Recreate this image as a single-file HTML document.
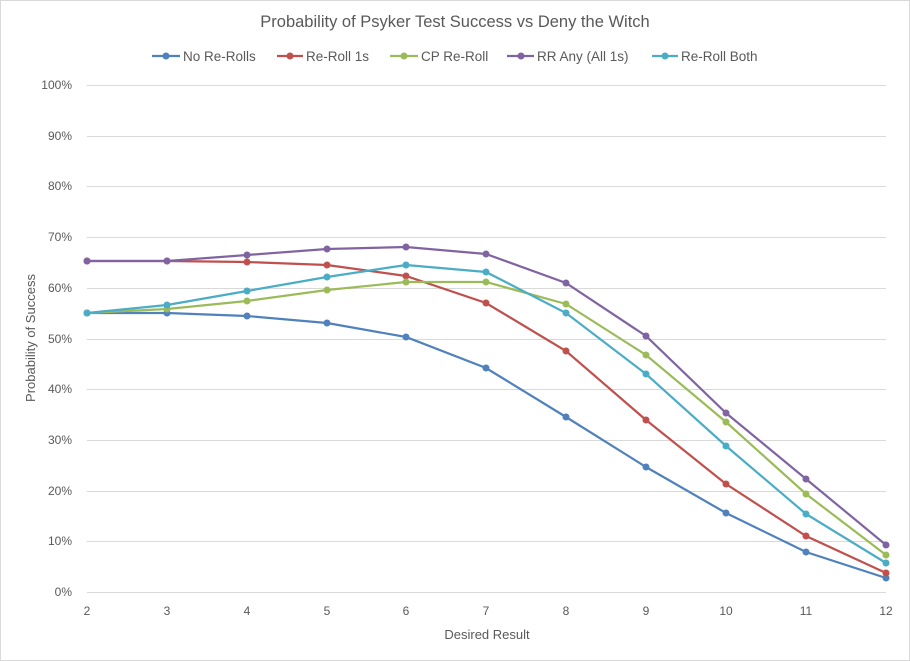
<!DOCTYPE html>
<html><head><meta charset="utf-8"><style>
body{margin:0;background:#fff}
svg{display:block;font-family:"Liberation Sans",Arial,sans-serif}
</style></head><body>
<svg width="910" height="661" viewBox="0 0 910 661" xmlns="http://www.w3.org/2000/svg">
<rect x="0.5" y="0.5" width="909" height="660" fill="#fff" stroke="#d9d9d9"/>
<text x="455" y="27" text-anchor="middle" font-size="16.5" fill="#595959">Probability of Psyker Test Success vs Deny the Witch</text>
<g stroke="#d9d9d9" stroke-width="1">
<line x1="87" x2="886" y1="85.5" y2="85.5"/><line x1="87" x2="886" y1="136.5" y2="136.5"/>
<line x1="87" x2="886" y1="186.5" y2="186.5"/><line x1="87" x2="886" y1="237.5" y2="237.5"/>
<line x1="87" x2="886" y1="288.5" y2="288.5"/><line x1="87" x2="886" y1="339.5" y2="339.5"/>
<line x1="87" x2="886" y1="389.5" y2="389.5"/><line x1="87" x2="886" y1="440.5" y2="440.5"/>
<line x1="87" x2="886" y1="491.5" y2="491.5"/><line x1="87" x2="886" y1="541.5" y2="541.5"/>
<line x1="87" x2="886" y1="592.5" y2="592.5"/>
</g>
<g font-size="12" fill="#595959" text-anchor="end">
<text x="72" y="89">100%</text><text x="72" y="140">90%</text><text x="72" y="190">80%</text>
<text x="72" y="241">70%</text><text x="72" y="292">60%</text><text x="72" y="343">50%</text>
<text x="72" y="393">40%</text><text x="72" y="444">30%</text><text x="72" y="495">20%</text>
<text x="72" y="545">10%</text><text x="72" y="596">0%</text>
</g>
<g font-size="12" fill="#595959" text-anchor="middle">
<text x="87" y="615">2</text><text x="167" y="615">3</text><text x="247" y="615">4</text>
<text x="327" y="615">5</text><text x="406" y="615">6</text><text x="486" y="615">7</text>
<text x="566" y="615">8</text><text x="646" y="615">9</text><text x="726" y="615">10</text>
<text x="806" y="615">11</text><text x="886" y="615">12</text>
</g>
<text x="487" y="639" text-anchor="middle" font-size="13" fill="#595959">Desired Result</text>
<text transform="translate(35,338) rotate(-90)" text-anchor="middle" font-size="13" fill="#595959">Probability of Success</text>
<g fill="none" stroke-width="2.2">
<polyline stroke="#4f81bd" points="87,313 167,313 247,316 327,323 406,337 486,368 566,417 646,467 726,513 806,552 886,578"/>
<polyline stroke="#c0504d" points="87,261 167,261 247,262 327,265 406,276 486,303 566,351 646,420 726,484 806,536 886,573"/>
<polyline stroke="#9bbb59" points="87,313 167,309 247,301 327,290 406,282 486,282 566,304 646,355 726,422 806,494 886,555"/>
<polyline stroke="#8064a2" points="87,261 167,261 247,255 327,249 406,247 486,254 566,283 646,336 726,413 806,479 886,545"/>
<polyline stroke="#4bacc6" points="87,313 167,305 247,291 327,277 406,265 486,272 566,313 646,374 726,446 806,514 886,563"/>
</g>
<g fill="#4f81bd"><circle cx="87" cy="313" r="3.5"/><circle cx="167" cy="313" r="3.5"/><circle cx="247" cy="316" r="3.5"/><circle cx="327" cy="323" r="3.5"/><circle cx="406" cy="337" r="3.5"/><circle cx="486" cy="368" r="3.5"/><circle cx="566" cy="417" r="3.5"/><circle cx="646" cy="467" r="3.5"/><circle cx="726" cy="513" r="3.5"/><circle cx="806" cy="552" r="3.5"/><circle cx="886" cy="578" r="3.5"/></g>
<g fill="#c0504d"><circle cx="87" cy="261" r="3.5"/><circle cx="167" cy="261" r="3.5"/><circle cx="247" cy="262" r="3.5"/><circle cx="327" cy="265" r="3.5"/><circle cx="406" cy="276" r="3.5"/><circle cx="486" cy="303" r="3.5"/><circle cx="566" cy="351" r="3.5"/><circle cx="646" cy="420" r="3.5"/><circle cx="726" cy="484" r="3.5"/><circle cx="806" cy="536" r="3.5"/><circle cx="886" cy="573" r="3.5"/></g>
<g fill="#9bbb59"><circle cx="87" cy="313" r="3.5"/><circle cx="167" cy="309" r="3.5"/><circle cx="247" cy="301" r="3.5"/><circle cx="327" cy="290" r="3.5"/><circle cx="406" cy="282" r="3.5"/><circle cx="486" cy="282" r="3.5"/><circle cx="566" cy="304" r="3.5"/><circle cx="646" cy="355" r="3.5"/><circle cx="726" cy="422" r="3.5"/><circle cx="806" cy="494" r="3.5"/><circle cx="886" cy="555" r="3.5"/></g>
<g fill="#8064a2"><circle cx="87" cy="261" r="3.5"/><circle cx="167" cy="261" r="3.5"/><circle cx="247" cy="255" r="3.5"/><circle cx="327" cy="249" r="3.5"/><circle cx="406" cy="247" r="3.5"/><circle cx="486" cy="254" r="3.5"/><circle cx="566" cy="283" r="3.5"/><circle cx="646" cy="336" r="3.5"/><circle cx="726" cy="413" r="3.5"/><circle cx="806" cy="479" r="3.5"/><circle cx="886" cy="545" r="3.5"/></g>
<g fill="#4bacc6"><circle cx="87" cy="313" r="3.5"/><circle cx="167" cy="305" r="3.5"/><circle cx="247" cy="291" r="3.5"/><circle cx="327" cy="277" r="3.5"/><circle cx="406" cy="265" r="3.5"/><circle cx="486" cy="272" r="3.5"/><circle cx="566" cy="313" r="3.5"/><circle cx="646" cy="374" r="3.5"/><circle cx="726" cy="446" r="3.5"/><circle cx="806" cy="514" r="3.5"/><circle cx="886" cy="563" r="3.5"/></g>
<g font-size="13.5" fill="#595959" stroke-width="2.2">
<line x1="152" x2="180" y1="56" y2="56" stroke="#4f81bd"/><circle cx="166" cy="56" r="3.5" fill="#4f81bd"/><text x="183" y="61">No Re-Rolls</text>
<line x1="277" x2="303" y1="56" y2="56" stroke="#c0504d"/><circle cx="290" cy="56" r="3.5" fill="#c0504d"/><text x="306" y="61">Re-Roll 1s</text>
<line x1="390" x2="418" y1="56" y2="56" stroke="#9bbb59"/><circle cx="404" cy="56" r="3.5" fill="#9bbb59"/><text x="421" y="61">CP Re-Roll</text>
<line x1="507" x2="534" y1="56" y2="56" stroke="#8064a2"/><circle cx="521" cy="56" r="3.5" fill="#8064a2"/><text x="537" y="61">RR Any (All 1s)</text>
<line x1="652" x2="678" y1="56" y2="56" stroke="#4bacc6"/><circle cx="665" cy="56" r="3.5" fill="#4bacc6"/><text x="681" y="61">Re-Roll Both</text>
</g>
</svg>
</body></html>
